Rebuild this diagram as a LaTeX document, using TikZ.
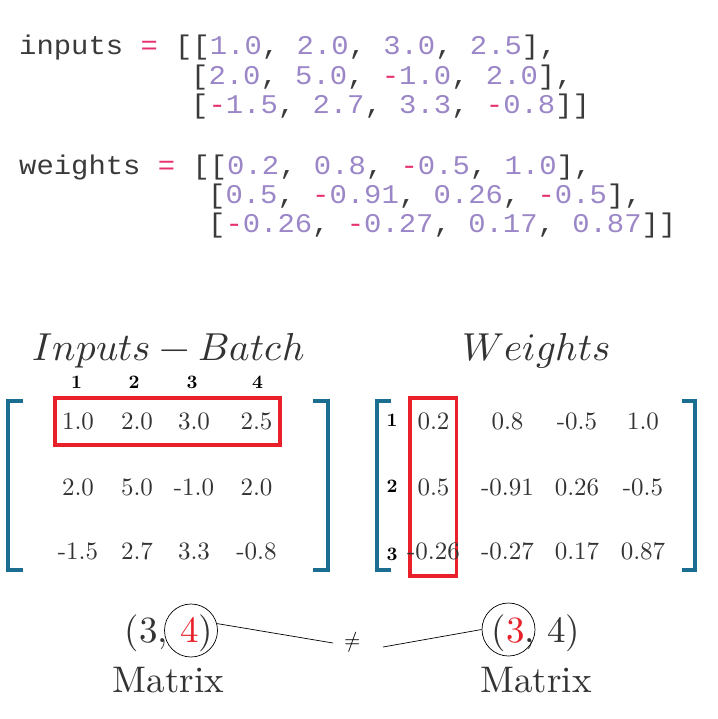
\documentclass[tikz,border=0pt]{standalone}
\usepackage{fontspec}
\usepackage{unicode-math}
\setmainfont{lmroman10-regular.otf}[BoldFont=lmroman10-bold.otf, ItalicFont=lmroman10-italic.otf]
\setmathfont{Latin Modern Math}
\newfontfamily\codefont[FakeStretch=1.07]{Liberation Mono}
\definecolor{codedark}{HTML}{3A3A3A}
\definecolor{codenum}{HTML}{9B87C8}
\definecolor{codeop}{HTML}{E6336E}
\definecolor{txtgray}{HTML}{333333}
\definecolor{brblue}{HTML}{1B6E8F}
\definecolor{boxred}{HTML}{E8202A}
\newcommand{\cN}[1]{\textcolor{codenum}{#1}}
\newcommand{\cO}[1]{\textcolor{codeop}{#1}}
\begin{document}
\begin{tikzpicture}[x=1pt,y=-1pt,
  codeline/.style={anchor=base west, inner sep=0pt, text=codedark,
    font=\codefont\fontsize{27}{27}\selectfont},
  entry/.style={inner sep=0pt, text=txtgray, font=\fontsize{25}{25}\selectfont},
  idx/.style={inner sep=0pt, text=black, font=\fontsize{19}{19}\selectfont\bfseries},
  title/.style={anchor=base, inner sep=0pt, text=txtgray, font=\fontsize{39}{39}\selectfont},
  big/.style={anchor=base, inner sep=0pt, text=txtgray, font=\fontsize{37}{37}\selectfont},
  brk/.style={draw=brblue, line width=4pt},
  redbox/.style={draw=boxred, line width=3.5pt},
  ring/.style={circle, draw=black, line width=0.7pt, minimum size=53pt, inner sep=0pt},
  link/.style={draw=black, line width=0.7pt}]
\useasboundingbox[fill=white] (0,0) rectangle (717,719);

% ---- code ----
\node[codeline] (i1) at (19,55) {inputs \cO{=} [[\cN{1.0}, \cN{2.0}, \cN{3.0}, \cN{2.5}],};
\node[codeline] (i2) at (191,84.5) {[\cN{2.0}, \cN{5.0}, \cO{-}\cN{1.0}, \cN{2.0}],};
\node[codeline] (i3) at (191,113.5) {[\cO{-}\cN{1.5}, \cN{2.7}, \cN{3.3}, \cO{-}\cN{0.8}]]};
\node[codeline] (w1) at (19,175) {weights \cO{=} [[\cN{0.2}, \cN{0.8}, \cO{-}\cN{0.5}, \cN{1.0}],};
\node[codeline] (w2) at (208,204) {[\cN{0.5}, \cO{-}\cN{0.91}, \cN{0.26}, \cO{-}\cN{0.5}],};
\node[codeline] (w3) at (208,233) {[\cO{-}\cN{0.26}, \cO{-}\cN{0.27}, \cN{0.17}, \cN{0.87}]]};

% ---- titles ----
\node[title] (tin) at (168.5,360.5) {$Inputs - Batch$};
\node[title] (tw) at (536.5,360.5) {$Weights$};

% ---- inputs matrix ----
\draw[brk] (22.5,401) -- (8,401) -- (8,570) -- (22.5,570);
\draw[brk] (313,401) -- (328,401) -- (328,570) -- (313,570);
\draw[redbox] (55,398) rectangle (280,445);
\node[idx] (c1) at (76.5,382) {1};
\node[idx] (c2) at (134,382) {2};
\node[idx] (c3) at (192,382) {3};
\node[idx] (c4) at (257.5,382) {4};
\foreach \x/\a/\b/\c [count=\i] in {78/1.0/2.0/-1.5, 137/2.0/5.0/2.7, 194/3.0/-1.0/3.3, 256.5/2.5/2.0/-0.8}{
  \node[entry] (a1\i) at (\x,421.5) {\a};
  \node[entry] (a2\i) at (\x,487) {\b};
  \node[entry] (a3\i) at (\x,551.5) {\c};
}

% ---- weights matrix ----
\draw[brk] (391,401) -- (377,401) -- (377,570) -- (391,570);
\draw[brk] (681.5,401) -- (694.5,401) -- (694.5,570) -- (681.5,570);
\draw[redbox] (410,398) rectangle (456.5,576);
\node[idx] (r1) at (392,420) {1};
\node[idx] (r2) at (392,486) {2};
\node[idx] (r3) at (392,554) {3};
\foreach \x/\a/\b/\c [count=\i] in {433.5/0.2/0.5/-0.26, 507.5/0.8/-0.91/-0.27, 577/-0.5/0.26/0.17, 643/1.0/-0.5/0.87}{
  \node[entry] (b1\i) at (\x,421.5) {\a};
  \node[entry] (b2\i) at (\x,487) {\b};
  \node[entry] (b3\i) at (\x,551.5) {\c};
}

% ---- shapes ----
\node[big] (sh1) at (169,642) {(3, \textcolor{boxred}{4})};
\node[big] (sh2) at (536,642) {(\textcolor{boxred}{3}, 4)};
\node[big] (m1) at (168.5,692) {Matrix};
\node[big] (m2) at (536,692) {Matrix};
\node[ring] (o1) at (191,630.5) {};
\node[ring] (o2) at (508.5,629.5) {};
\node[inner sep=0pt, font=\fontsize{21}{21}\selectfont] (ne) at (353,642) {$\neq$};
\coordinate (e1) at (333,643);
\coordinate (e2) at (383,647);
\draw[link] (o1.15) -- (e1);
\draw[link] (e2) -- (o2.180);
\end{tikzpicture}
\end{document}
